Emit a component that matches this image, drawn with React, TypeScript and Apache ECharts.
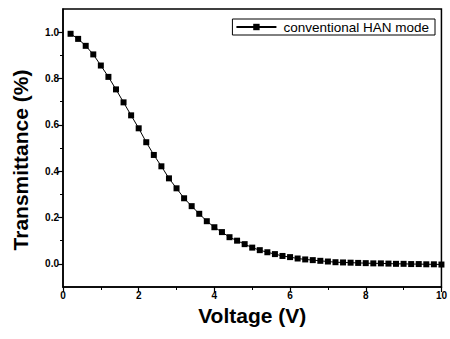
import React, { useEffect, useRef } from "react";
import * as echarts from "echarts";

const voltages = [
  0.2, 0.4, 0.6, 0.8, 1.0, 1.2, 1.4, 1.6, 1.8, 2.0,
  2.2, 2.4, 2.6, 2.8, 3.0, 3.2, 3.4, 3.6, 3.8, 4.0,
  4.2, 4.4, 4.6, 4.8, 5.0, 5.2, 5.4, 5.6, 5.8, 6.0,
  6.2, 6.4, 6.6, 6.8, 7.0, 7.2, 7.4, 7.6, 7.8, 8.0,
  8.2, 8.4, 8.6, 8.8, 9.0, 9.2, 9.4, 9.6, 9.8, 10.0,
];
const transmittance = [
  0.993, 0.971, 0.941, 0.904, 0.856, 0.807, 0.753, 0.697, 0.641, 0.585,
  0.525, 0.470, 0.421, 0.369, 0.326, 0.283, 0.249, 0.216, 0.184, 0.158,
  0.137, 0.115, 0.100, 0.085, 0.070, 0.059, 0.050, 0.042, 0.034, 0.029,
  0.023, 0.019, 0.016, 0.013, 0.010, 0.007, 0.006, 0.005, 0.004, 0.003,
  0.002, 0.002, 0.001, 0.000, 0.000, -0.001, -0.001, -0.002, -0.002, -0.003,
];
const yMajorTicks = [0, 0.2, 0.4, 0.6, 0.8, 1.0];
const yMinorTicks = [0.1, 0.3, 0.5, 0.7, 0.9];
const seriesName = "conventional HAN mode";
const xTitle = "Voltage (V)";
const yTitle = "Transmittance (%)";

const FONT = "'Liberation Sans', Arial, sans-serif";

export default function App() {
  const ref = useRef<HTMLDivElement>(null);
  useEffect(() => {
    if (!ref.current) return;
    const chart = echarts.init(ref.current, null, { renderer: "svg" });
    chart.setOption({
      animation: false,
      backgroundColor: "#fff",
      grid: {
        left: 63,
        right: 8,
        top: 9,
        bottom: 52,
        show: true,
        borderColor: "#000",
        borderWidth: 1.5,
      },
      legend: {
        data: [seriesName],
        right: 15,
        top: 19,
        borderColor: "#000",
        borderWidth: 1,
        padding: [1, 6, 1, 3],
        itemWidth: 40,
        itemHeight: 8,
        itemGap: 6,
        textStyle: { fontFamily: FONT, fontSize: 13.5, color: "#000", padding: [0, 0, 0, 2] },
      },
      xAxis: {
        type: "value",
        min: 0,
        max: 10,
        interval: 2,
        name: xTitle,
        nameLocation: "middle",
        nameGap: 15,
        nameTextStyle: { fontFamily: FONT, fontSize: 21, fontWeight: "bold", color: "#000" },
        axisLine: { show: true, onZero: false, lineStyle: { color: "#000", width: 1.5 } },
        axisTick: { show: true, length: 5, lineStyle: { color: "#000", width: 1.2 } },
        minorTick: { show: true, splitNumber: 2, length: 3, lineStyle: { color: "#000", width: 1 } },
        splitLine: { show: false },
        axisLabel: {
          fontFamily: FONT,
          fontSize: 10,
          fontWeight: "bold",
          color: "#000",
          margin: 3,
        },
      },
      yAxis: [
        {
          type: "value",
          min: -0.1,
          max: 1.1,
          axisLine: { show: true, onZero: false, lineStyle: { color: "#000", width: 1.5 } },
          axisTick: {
            show: true,
            length: 5,
            customValues: yMajorTicks,
            lineStyle: { color: "#000", width: 1.2 },
          },
          splitLine: { show: false },
          axisLabel: {
            customValues: yMajorTicks,
            formatter: (v: number) => v.toFixed(1),
            fontFamily: FONT,
            fontSize: 10,
            fontWeight: "bold",
            color: "#000",
            margin: 4,
          },
        },
        {
          type: "value",
          min: -0.1,
          max: 1.1,
          position: "left",
          axisLine: { show: false, onZero: false },
          axisTick: {
            show: true,
            length: 3,
            customValues: yMinorTicks,
            lineStyle: { color: "#000", width: 1 },
          },
          splitLine: { show: false },
          axisLabel: { show: false },
        },
      ],
      graphic: [
        {
          type: "text",
          x: 20,
          y: 160,
          rotation: Math.PI / 2,
          style: {
            text: yTitle,
            fontFamily: FONT,
            fontSize: 21,
            fontWeight: "bold",
            fill: "#000",
            align: "center",
            verticalAlign: "middle",
          },
        },
      ],
      series: [
        {
          name: seriesName,
          type: "line",
          yAxisIndex: 0,
          data: voltages.map((v, i) => [v, transmittance[i]]),
          symbol: "rect",
          symbolSize: 6,
          itemStyle: { color: "#000" },
          lineStyle: { color: "#000", width: 1 },
        },
      ],
    });
    return () => chart.dispose();
  }, []);
  return (
    <div
      ref={ref}
      style={{ position: "fixed", left: 0, top: 0, width: 450, height: 339 }}
    />
  );
}
